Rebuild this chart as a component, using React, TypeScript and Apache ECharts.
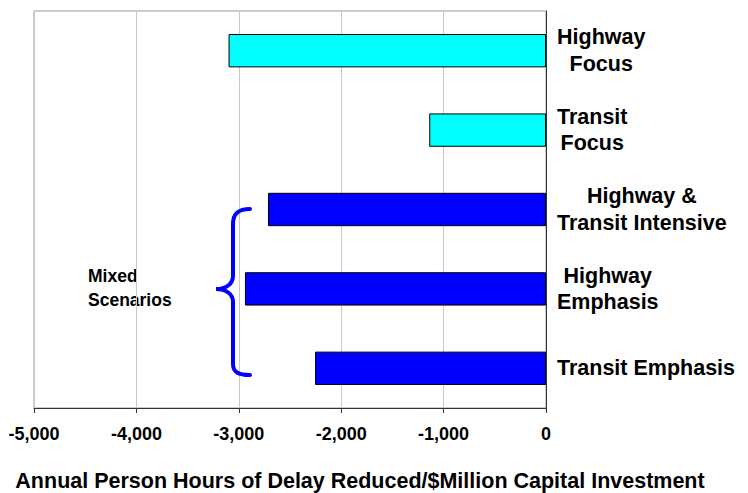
import React, { useEffect, useRef } from "react";
import * as echarts from "echarts";

const categories = [
  "Highway\nFocus",
  "Transit\nFocus",
  "Highway &\nTransit Intensive",
  "Highway\nEmphasis",
  "Transit Emphasis",
];
const values = [-3100, -1140, -2715, -2940, -2255];
const groups = ["focus", "focus", "mixed", "mixed", "mixed"];
const xTicks = { min: -5000, max: 0, interval: 1000 };
const axisTitle = "Annual Person Hours of Delay Reduced/$Million Capital Investment";
const groupNote = "Mixed\nScenarios";

const FONT = "'Liberation Sans', Arial, Helvetica, sans-serif";
const groupColor: Record<string, string> = { focus: "#00FFFF", mixed: "#0000FF" };

const BRACE_D =
  "M 250 209 C 238 209 233 214 233 224 L 233 276 C 233 284 226 289 216 289 C 226 289 233 294 233 302 L 233 364 C 233 372 238 375 250 375";
echarts.graphic.registerShape("brace", echarts.graphic.extendPath(BRACE_D, {}));

export default function App() {
  const ref = useRef<HTMLDivElement>(null);
  useEffect(() => {
    if (!ref.current) return;
    const chart = echarts.init(ref.current, null, { renderer: "svg" });
    chart.setOption({
      animation: false,
      backgroundColor: "#ffffff",
      grid: {
        left: 34,
        right: 202,
        top: 11,
        bottom: 85,
        show: true,
        borderColor: "#999999",
        borderWidth: 1,
        containLabel: false,
      },
      xAxis: {
        type: "value",
        min: xTicks.min,
        max: xTicks.max,
        interval: xTicks.interval,
        axisLine: { show: true, onZero: false, lineStyle: { color: "#333333", width: 1 } },
        axisTick: { show: true, length: 5, lineStyle: { color: "#333333" } },
        axisLabel: {
          color: "#000000",
          fontSize: 18,
          fontWeight: "bold",
          fontFamily: FONT,
          margin: 17,
          formatter: (v: number) => v.toLocaleString("en-US"),
        },
        splitLine: { show: true, lineStyle: { color: "#c8c8c8", width: 1 } },
      },
      yAxis: {
        type: "category",
        position: "right",
        inverse: true,
        data: categories,
        axisLine: { show: true, onZero: false, lineStyle: { color: "#333333", width: 1 } },
        axisTick: { show: false },
        splitLine: { show: false },
        axisLabel: {
          margin: 11,
          align: "left",
          color: "#000000",
          fontSize: 21.5,
          fontWeight: "bold",
          fontFamily: FONT,
          lineHeight: 26.5,
          formatter: (v: string) =>
            v
              .split("\n")
              .map((l) => `{c|${l}}`)
              .join("\n"),
          rich: {
            c: {
              align: "center",
              color: "#000000",
              fontSize: 21.5,
              fontWeight: "bold",
              fontFamily: FONT,
              lineHeight: 26.5,
            },
          },
        },
      },
      series: [
        {
          type: "bar",
          data: values.map((v, i) => ({
            value: v,
            itemStyle: { color: groupColor[groups[i]] },
          })),
          barWidth: "42%",
          itemStyle: { borderColor: "#000000", borderWidth: 1 },
        },
      ],
      graphic: [
        {
          type: "brace",
          x: 0,
          y: 0,
          style: { fill: "none", stroke: "#0000FF", lineWidth: 4, lineCap: "round" },
          z: 100,
        },
        {
          type: "text",
          x: 88,
          y: 288,
          style: {
            text: groupNote,
            fill: "#000000",
            fontSize: 17.5,
            fontWeight: "bold",
            fontFamily: FONT,
            lineHeight: 24,
            align: "left",
            verticalAlign: "middle",
          },
        },
        {
          type: "text",
          x: 360,
          y: 481,
          style: {
            text: axisTitle,
            fill: "#000000",
            fontSize: 21.5,
            fontWeight: "bold",
            fontFamily: FONT,
            align: "center",
            verticalAlign: "middle",
          },
        },
      ],
    });
    return () => chart.dispose();
  }, []);
  return (
    <div
      ref={ref}
      style={{ position: "fixed", left: 0, top: 0, width: 748, height: 493 }}
    />
  );
}
